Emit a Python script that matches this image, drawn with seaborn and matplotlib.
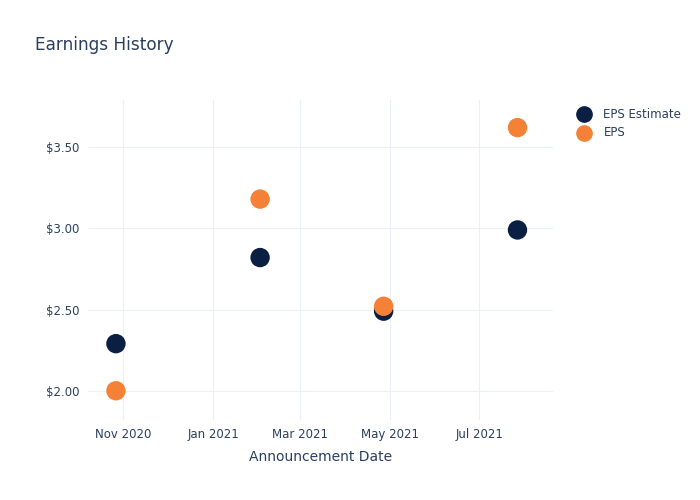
import pandas as pd
import matplotlib.pyplot as plt
import matplotlib.dates as mdates
from matplotlib.ticker import FuncFormatter
import seaborn as sns

# announcement dates and EPS values
dates = ['2020-10-27', '2021-02-02', '2021-04-27', '2021-07-27']
eps_estimate = [2.29, 2.82, 2.49, 2.99]
eps_actual = [2.00, 3.18, 2.52, 3.62]

TEXT = '#2a3f5f'
GRID = '#ebf0f8'
COLORS = {'EPS Estimate': '#0b1f42', 'EPS': '#f58137'}

df = pd.DataFrame({
    'date': pd.to_datetime(dates * 2),
    'value': eps_estimate + eps_actual,
    'series': ['EPS Estimate'] * len(dates) + ['EPS'] * len(dates),
})

sns.set_theme(style='white')
plt.rcParams['font.family'] = ['DejaVu Sans']

fig = plt.figure(figsize=(7, 5), dpi=100)
ax = fig.add_axes([0.1257, 0.16, 0.664, 0.64])

sns.scatterplot(data=df, x='date', y='value', hue='series', palette=COLORS,
                s=195, linewidth=0, ax=ax, legend=False, zorder=3)

ax.set_xlim(pd.Timestamp('2020-10-08'), pd.Timestamp('2021-08-20'))
ax.set_ylim(1.82, 3.79)
ax.set_yticks([2.0, 2.5, 3.0, 3.5])
ax.yaxis.set_major_formatter(FuncFormatter(lambda v, p: f'${v:.2f}'))
ax.xaxis.set_major_locator(mdates.MonthLocator(bymonth=[1, 3, 5, 7, 11]))
ax.xaxis.set_major_formatter(mdates.DateFormatter('%b %Y'))

ax.grid(True, color=GRID, linewidth=0.8)
ax.set_axisbelow(True)
for sp in ax.spines.values():
    sp.set_visible(False)
ax.tick_params(axis='both', length=0, labelsize=8.5, labelcolor=TEXT, pad=6)
ax.set_xlabel('Announcement Date', fontsize=10, color=TEXT, labelpad=6)
ax.set_ylabel('')

fig.text(0.05, 0.91, 'Earnings History', fontsize=12.2, color=TEXT, va='center')

# legend drawn by hand like plotly
for i, name in enumerate(['EPS Estimate', 'EPS']):
    y = 0.772 - i * 0.038
    fig.lines.append(plt.Line2D([0.834], [y], marker='o', markersize=11,
                                color=COLORS[name], linestyle='none',
                                transform=fig.transFigure))
    fig.text(0.862, y, name, fontsize=8.5, color=TEXT, va='center')

fig.savefig('out.png', dpi=100)
